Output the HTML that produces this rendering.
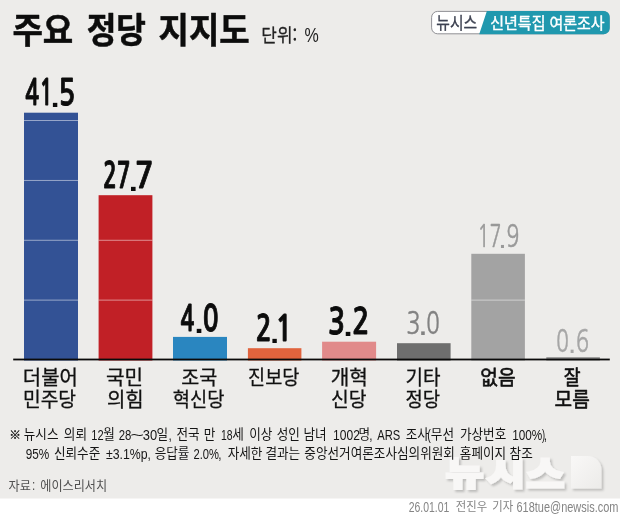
<!DOCTYPE html>
<html lang="ko">
<head>
<meta charset="utf-8">
<title>주요 정당 지지도</title>
<style>
html,body{margin:0;padding:0;background:#fff;}
body{width:620px;height:515px;overflow:hidden;}
svg{display:block;}
text{white-space:pre;}
.ns{vector-effect:non-scaling-stroke;stroke-linejoin:round;}
</style>
</head>
<body>
<svg width="620" height="515" viewBox="0 0 620 515">
<defs>
<linearGradient id="emb" x1="0" y1="0" x2="1" y2="1">
<stop offset="0" stop-color="#f9f8f7"/>
<stop offset="1" stop-color="#ecebe9"/>
</linearGradient>
<filter id="wsh" x="-10%" y="-10%" width="125%" height="130%">
<feGaussianBlur in="SourceAlpha" stdDeviation="0.9" result="b"/>
<feOffset in="b" dx="1.8" dy="2.2" result="o"/>
<feFlood flood-color="#000" flood-opacity="0.2"/>
<feComposite in2="o" operator="in" result="s"/>
<feMerge><feMergeNode in="s"/><feMergeNode in="SourceGraphic"/></feMerge>
</filter>
</defs>
<rect x="0" y="0" width="620" height="498.5" fill="#edecea"/>
<!-- bars -->
<rect x="24.0" y="112.7" width="54.0" height="247.8" fill="#335295"/>
<rect x="98.6" y="195.2" width="53.8" height="165.3" fill="#c12026"/>
<rect x="173.0" y="336.9" width="54.0" height="23.6" fill="#2a86c0"/>
<rect x="247.9" y="348.2" width="53.5" height="12.3" fill="#e0633d"/>
<rect x="322.1" y="341.7" width="54.0" height="18.8" fill="#e18a8a"/>
<rect x="397.0" y="343.2" width="53.6" height="17.3" fill="#6e6e6e"/>
<rect x="471.3" y="253.8" width="53.6" height="106.7" fill="#a3a3a3"/>
<rect x="546.3" y="357.2" width="53.6" height="3.3" fill="#8c8c8c"/>
<rect x="24.0" y="299.65" width="54.0" height="0.9" fill="#fff" opacity="0.55"/>
<rect x="98.6" y="299.65" width="53.8" height="0.9" fill="#fff" opacity="0.55"/>
<rect x="471.3" y="299.65" width="53.6" height="0.9" fill="#fff" opacity="0.55"/>
<rect x="24.0" y="239.80" width="54.0" height="0.9" fill="#fff" opacity="0.55"/>
<rect x="98.6" y="239.80" width="53.8" height="0.9" fill="#fff" opacity="0.55"/>
<rect x="24.0" y="179.95" width="54.0" height="0.9" fill="#fff" opacity="0.55"/>
<rect x="24.0" y="120.10" width="54.0" height="0.9" fill="#fff" opacity="0.55"/>
<rect x="13.2" y="358.6" width="596.6" height="1.8" fill="#0a0a0a"/>
<!-- badge -->
<rect x="431.6" y="11.4" width="177.6" height="22.4" rx="6" ry="6" fill="#fff" stroke="#85858a" stroke-width="0.9"/>
<path d="M486.9 10.9 H603.5 A6 6 0 0 1 609.7 17 V28.2 A6 6 0 0 1 603.5 34.3 H479.2 Z" fill="#2098ae"/>
<!-- watermark -->
<g filter="url(#wsh)">
<text transform="translate(445.87 484.91) scale(1.0208 0.8315)" font-family='"Noto Sans CJK KR", "Liberation Sans", sans-serif' font-weight="700" font-size="40" fill="#f8f7f6" stroke="#f8f7f6" stroke-width="3.4" stroke-linejoin="miter" style="vector-effect:non-scaling-stroke">뉴</text><text transform="translate(486.96 485.30) scale(1.0353 0.7769)" font-family='"Noto Sans CJK KR", "Liberation Sans", sans-serif' font-weight="700" font-size="40" fill="#f8f7f6" stroke="#f8f7f6" stroke-width="3.4" stroke-linejoin="miter" style="vector-effect:non-scaling-stroke">시</text><text transform="translate(526.46 487.62) scale(1.0238 0.8994)" font-family='"Noto Sans CJK KR", "Liberation Sans", sans-serif' font-weight="700" font-size="40" fill="#f8f7f6" stroke="#f8f7f6" stroke-width="3.4" stroke-linejoin="miter" style="vector-effect:non-scaling-stroke">스</text>
<path d="M571 456 H588 A13.4 13.4 0 0 1 601.4 469.4 V488.4 H571 Z" fill="url(#emb)"/>
</g>
<!-- text -->
<text transform="translate(12.43 43.00) scale(0.9448 1)" font-family='"Noto Sans CJK KR", "Liberation Sans", sans-serif' font-size="35.00" font-weight="700" fill="#0c0c0c" class="ns" stroke="#0c0c0c" stroke-width="0.5">주요</text>
<text transform="translate(86.66 43.00) scale(0.9201 1)" font-family='"Noto Sans CJK KR", "Liberation Sans", sans-serif' font-size="35.00" font-weight="700" fill="#0c0c0c" class="ns" stroke="#0c0c0c" stroke-width="0.5">정당</text>
<text transform="translate(158.53 43.00) scale(0.9435 1)" font-family='"Noto Sans CJK KR", "Liberation Sans", sans-serif' font-size="35.00" font-weight="700" fill="#0c0c0c" class="ns" stroke="#0c0c0c" stroke-width="0.5">지지도</text>
<text transform="translate(261.30 41.60) scale(0.9312 1)" font-family='"Noto Sans CJK KR", "Liberation Sans", sans-serif' font-size="18.20" font-weight="400" fill="#222" class="ns" stroke="#222" stroke-width="0.25">단위:</text>
<text transform="translate(304.56 41.81) scale(0.5350 0.6429)" font-family='"Liberation Sans", sans-serif' font-size="30.00" font-weight="400" fill="#222">%</text>
<text transform="translate(436.31 29.20) scale(0.8513 1)" font-family='"Noto Sans CJK KR", "Liberation Sans", sans-serif' font-size="17.40" font-weight="400" fill="#3c4150" class="ns" stroke="#3c4150" stroke-width="0.3">뉴시스</text>
<text transform="translate(490.20 28.80) scale(0.9461 1)" font-family='"Noto Sans CJK KR", "Liberation Sans", sans-serif' font-size="15.90" font-weight="400" fill="#fff" class="ns" stroke="#fff" stroke-width="0.4">신년특집</text>
<text transform="translate(549.45 28.80) scale(0.9434 1)" font-family='"Noto Sans CJK KR", "Liberation Sans", sans-serif' font-size="15.90" font-weight="400" fill="#fff" class="ns" stroke="#fff" stroke-width="0.4">여론조사</text>
<text transform="translate(25.21 104.95) scale(0.6502 1)" font-family='"NanumGothic", "Liberation Sans", sans-serif' font-size="35.45" font-weight="700" fill="#0c0c0c" class="ns" stroke="#0c0c0c" stroke-width="0.8">41</text><text transform="translate(50.80 107.20) scale(1.0476 0.9333)" font-family='"Liberation Sans", sans-serif' font-size="30.00" font-weight="700" fill="#0c0c0c">.</text><text transform="translate(58.43 104.95) scale(0.7821 1)" font-family='"NanumGothic", "Liberation Sans", sans-serif' font-size="35.45" font-weight="700" fill="#0c0c0c" class="ns" stroke="#0c0c0c" stroke-width="0.8">5</text>
<text transform="translate(102.92 188.45) scale(0.6477 1)" font-family='"NanumGothic", "Liberation Sans", sans-serif' font-size="35.45" font-weight="700" fill="#0c0c0c" class="ns" stroke="#0c0c0c" stroke-width="0.8">27</text><text transform="translate(128.80 190.70) scale(1.0952 0.9111)" font-family='"Liberation Sans", sans-serif' font-size="30.00" font-weight="700" fill="#0c0c0c">.</text><text transform="translate(134.95 188.45) scale(0.8645 1)" font-family='"NanumGothic", "Liberation Sans", sans-serif' font-size="35.45" font-weight="700" fill="#0c0c0c" class="ns" stroke="#0c0c0c" stroke-width="0.8">7</text>
<text transform="translate(180.61 330.85) scale(0.6462 1)" font-family='"NanumGothic", "Liberation Sans", sans-serif' font-size="35.45" font-weight="700" fill="#0c0c0c" class="ns" stroke="#0c0c0c" stroke-width="0.8">4</text><text transform="translate(194.40 333.00) scale(1.0952 0.9111)" font-family='"Liberation Sans", sans-serif' font-size="30.00" font-weight="700" fill="#0c0c0c">.</text><text transform="translate(202.83 330.85) scale(0.7390 1)" font-family='"NanumGothic", "Liberation Sans", sans-serif' font-size="35.45" font-weight="700" fill="#0c0c0c" class="ns" stroke="#0c0c0c" stroke-width="0.8">0</text>
<text transform="translate(255.72 340.65) scale(0.7419 1)" font-family='"NanumGothic", "Liberation Sans", sans-serif' font-size="35.45" font-weight="700" fill="#0c0c0c" class="ns" stroke="#0c0c0c" stroke-width="0.8">2</text><text transform="translate(270.20 343.20) scale(1.0476 0.9333)" font-family='"Liberation Sans", sans-serif' font-size="30.00" font-weight="700" fill="#0c0c0c">.</text><text transform="translate(275.05 340.65) scale(0.8349 1)" font-family='"NanumGothic", "Liberation Sans", sans-serif' font-size="35.45" font-weight="700" fill="#0c0c0c" class="ns" stroke="#0c0c0c" stroke-width="0.8">1</text>
<text transform="translate(328.09 333.55) scale(0.8032 1)" font-family='"NanumGothic", "Liberation Sans", sans-serif' font-size="35.45" font-weight="700" fill="#0c0c0c" class="ns" stroke="#0c0c0c" stroke-width="0.8">3</text><text transform="translate(343.40 336.10) scale(1.0952 0.9111)" font-family='"Liberation Sans", sans-serif' font-size="30.00" font-weight="700" fill="#0c0c0c">.</text><text transform="translate(352.19 333.55) scale(0.8032 1)" font-family='"NanumGothic", "Liberation Sans", sans-serif' font-size="35.45" font-weight="700" fill="#0c0c0c" class="ns" stroke="#0c0c0c" stroke-width="0.8">2</text>
<text transform="translate(406.28 333.89) scale(0.7599 1)" font-family='"NanumGothic", "Liberation Sans", sans-serif' font-size="31.18" font-weight="400" fill="#828282" class="ns" stroke="#828282" stroke-width="0.4">3</text><text transform="translate(419.55 335.00) scale(0.8333 0.8000)" font-family='"Liberation Sans", sans-serif' font-size="30.00" font-weight="700" fill="#828282">.</text><text transform="translate(426.37 333.89) scale(0.7133 1)" font-family='"NanumGothic", "Liberation Sans", sans-serif' font-size="31.18" font-weight="400" fill="#828282" class="ns" stroke="#828282" stroke-width="0.4">0</text>
<text transform="translate(477.46 247.06) scale(0.6346 1)" font-family='"NanumGothic", "Liberation Sans", sans-serif' font-size="31.12" font-weight="400" fill="#999999" class="ns" stroke="#999999" stroke-width="0.45">17</text><text transform="translate(499.50 248.30) scale(0.7143 0.6889)" font-family='"Liberation Sans", sans-serif' font-size="30.00" font-weight="700" fill="#999999">.</text><text transform="translate(506.56 247.06) scale(0.6788 1)" font-family='"NanumGothic", "Liberation Sans", sans-serif' font-size="31.12" font-weight="400" fill="#999999" class="ns" stroke="#999999" stroke-width="0.45">9</text>
<text transform="translate(556.18 351.56) scale(0.6657 1)" font-family='"NanumGothic", "Liberation Sans", sans-serif' font-size="31.12" font-weight="400" fill="#a6a6a6" class="ns" stroke="#a6a6a6" stroke-width="0.45">0</text><text transform="translate(569.25 353.00) scale(0.6905 0.7111)" font-family='"Liberation Sans", sans-serif' font-size="30.00" font-weight="700" fill="#a6a6a6">.</text><text transform="translate(575.92 351.56) scale(0.6929 1)" font-family='"NanumGothic", "Liberation Sans", sans-serif' font-size="31.12" font-weight="400" fill="#a6a6a6" class="ns" stroke="#a6a6a6" stroke-width="0.45">6</text>
<text transform="translate(22.85 385.10) scale(0.9980 1)" font-family='"Noto Sans CJK KR", "Liberation Sans", sans-serif' font-size="20.00" font-weight="400" fill="#111" class="ns" stroke="#111" stroke-width="0.3">더불어</text>
<text transform="translate(22.92 407.30) scale(0.9637 1)" font-family='"Noto Sans CJK KR", "Liberation Sans", sans-serif' font-size="20.00" font-weight="400" fill="#111" class="ns" stroke="#111" stroke-width="0.3">민주당</text>
<text transform="translate(106.04 385.10) scale(1.0089 1)" font-family='"Noto Sans CJK KR", "Liberation Sans", sans-serif' font-size="20.00" font-weight="400" fill="#111" class="ns" stroke="#111" stroke-width="0.3">국민</text>
<text transform="translate(106.95 407.30)" font-family='"Noto Sans CJK KR", "Liberation Sans", sans-serif' font-size="20.00" font-weight="400" fill="#111" class="ns" stroke="#111" stroke-width="0.3">의힘</text>
<text transform="translate(181.17 385.10) scale(0.9799 1)" font-family='"Noto Sans CJK KR", "Liberation Sans", sans-serif' font-size="20.00" font-weight="400" fill="#111" class="ns" stroke="#111" stroke-width="0.3">조국</text>
<text transform="translate(172.71 407.30) scale(0.9363 1)" font-family='"Noto Sans CJK KR", "Liberation Sans", sans-serif' font-size="20.00" font-weight="400" fill="#111" class="ns" stroke="#111" stroke-width="0.3">혁신당</text>
<text transform="translate(248.05 385.10) scale(0.9302 1)" font-family='"Noto Sans CJK KR", "Liberation Sans", sans-serif' font-size="20.00" font-weight="400" fill="#111" class="ns" stroke="#111" stroke-width="0.3">진보당</text>
<text transform="translate(330.64 385.10) scale(1.0120 1)" font-family='"Noto Sans CJK KR", "Liberation Sans", sans-serif' font-size="20.00" font-weight="400" fill="#111" class="ns" stroke="#111" stroke-width="0.3">개혁</text>
<text transform="translate(330.99 407.30) scale(0.9655 1)" font-family='"Noto Sans CJK KR", "Liberation Sans", sans-serif' font-size="20.00" font-weight="400" fill="#111" class="ns" stroke="#111" stroke-width="0.3">신당</text>
<text transform="translate(405.51 385.10) scale(0.9514 1)" font-family='"Noto Sans CJK KR", "Liberation Sans", sans-serif' font-size="20.00" font-weight="400" fill="#111" class="ns" stroke="#111" stroke-width="0.3">기타</text>
<text transform="translate(405.52 407.30) scale(0.9425 1)" font-family='"Noto Sans CJK KR", "Liberation Sans", sans-serif' font-size="20.00" font-weight="400" fill="#111" class="ns" stroke="#111" stroke-width="0.3">정당</text>
<text transform="translate(480.35 385.10) scale(0.9595 1)" font-family='"Noto Sans CJK KR", "Liberation Sans", sans-serif' font-size="20.00" font-weight="400" fill="#111" class="ns" stroke="#111" stroke-width="0.6">없음</text>
<text transform="translate(563.78 385.10) scale(0.9157 1)" font-family='"Noto Sans CJK KR", "Liberation Sans", sans-serif' font-size="20.00" font-weight="400" fill="#111" class="ns" stroke="#111" stroke-width="0.6">잘</text>
<text transform="translate(554.54 407.30) scale(0.9569 1)" font-family='"Noto Sans CJK KR", "Liberation Sans", sans-serif' font-size="20.00" font-weight="400" fill="#111" class="ns" stroke="#111" stroke-width="0.6">모름</text>
<text transform="translate(9.27 439.10) scale(1.0145 1)" font-family='"Noto Sans CJK KR", "Liberation Sans", sans-serif' font-size="11.50" font-weight="400" fill="#151515" class="ns" stroke="#151515" stroke-width="0.3">※</text>
<text transform="translate(23.72 439.40) scale(0.9550 1)" font-family='"Noto Sans CJK KR", "Liberation Sans", sans-serif' font-size="13.20" font-weight="400" fill="#151515">뉴시스</text>
<text transform="translate(63.84 439.40) scale(0.9550 1)" font-family='"Noto Sans CJK KR", "Liberation Sans", sans-serif' font-size="13.20" font-weight="400" fill="#151515">의뢰</text>
<text transform="translate(91.21 440.40) scale(0.7618 1)" font-family='"Liberation Sans", sans-serif' font-size="14.60" font-weight="400" fill="#151515">12</text><text transform="translate(103.17 439.40) scale(0.9550 1)" font-family='"Noto Sans CJK KR", "Liberation Sans", sans-serif' font-size="13.20" font-weight="400" fill="#151515">월</text>
<text transform="translate(118.63 440.40) scale(0.7789 1)" font-family='"Liberation Sans", sans-serif' font-size="14.60" font-weight="400" fill="#151515">28</text><text transform="translate(130.33 440.40) scale(1.6075 1)" font-family='"Liberation Sans", sans-serif' font-size="14.60" font-weight="400" fill="#151515">~</text><text transform="translate(142.78 440.40) scale(0.8844 1)" font-family='"Liberation Sans", sans-serif' font-size="14.60" font-weight="400" fill="#151515">30</text><text transform="translate(156.42 439.40) scale(0.9550 1)" font-family='"Noto Sans CJK KR", "Liberation Sans", sans-serif' font-size="13.20" font-weight="400" fill="#151515">일</text><text transform="translate(168.45 440.40) scale(0.8000 1)" font-family='"Liberation Sans", sans-serif' font-size="14.60" font-weight="400" fill="#151515">,</text>
<text transform="translate(176.54 439.40) scale(0.9550 1)" font-family='"Noto Sans CJK KR", "Liberation Sans", sans-serif' font-size="13.20" font-weight="400" fill="#151515">전국</text>
<text transform="translate(203.87 439.40) scale(0.9550 1)" font-family='"Noto Sans CJK KR", "Liberation Sans", sans-serif' font-size="13.20" font-weight="400" fill="#151515">만</text>
<text transform="translate(220.97 440.40) scale(0.7126 1)" font-family='"Liberation Sans", sans-serif' font-size="14.60" font-weight="400" fill="#151515">18</text><text transform="translate(232.20 439.40) scale(0.9550 1)" font-family='"Noto Sans CJK KR", "Liberation Sans", sans-serif' font-size="13.20" font-weight="400" fill="#151515">세</text>
<text transform="translate(249.19 439.40) scale(0.9550 1)" font-family='"Noto Sans CJK KR", "Liberation Sans", sans-serif' font-size="13.20" font-weight="400" fill="#151515">이상</text>
<text transform="translate(276.67 439.40) scale(0.9550 1)" font-family='"Noto Sans CJK KR", "Liberation Sans", sans-serif' font-size="13.20" font-weight="400" fill="#151515">성인</text>
<text transform="translate(303.47 439.40) scale(0.9550 1)" font-family='"Noto Sans CJK KR", "Liberation Sans", sans-serif' font-size="13.20" font-weight="400" fill="#151515">남녀</text>
<text transform="translate(333.04 440.40) scale(0.8259 1)" font-family='"Liberation Sans", sans-serif' font-size="14.60" font-weight="400" fill="#151515">1002</text><text transform="translate(358.47 439.40) scale(0.9550 1)" font-family='"Noto Sans CJK KR", "Liberation Sans", sans-serif' font-size="13.20" font-weight="400" fill="#151515">명</text><text transform="translate(369.15 440.40) scale(0.8000 1)" font-family='"Liberation Sans", sans-serif' font-size="14.60" font-weight="400" fill="#151515">,</text>
<text transform="translate(377.30 440.40) scale(0.7667 1)" font-family='"Liberation Sans", sans-serif' font-size="14.60" font-weight="400" fill="#151515">ARS</text>
<text transform="translate(405.67 439.40) scale(0.9550 1)" font-family='"Noto Sans CJK KR", "Liberation Sans", sans-serif' font-size="13.20" font-weight="400" fill="#151515">조사</text><text transform="translate(427.15 440.40) scale(0.7376 1)" font-family='"Liberation Sans", sans-serif' font-size="14.60" font-weight="400" fill="#151515">(</text><text transform="translate(430.87 439.40) scale(0.9550 1)" font-family='"Noto Sans CJK KR", "Liberation Sans", sans-serif' font-size="13.20" font-weight="400" fill="#151515">무선</text>
<text transform="translate(459.94 439.40) scale(0.9550 1)" font-family='"Noto Sans CJK KR", "Liberation Sans", sans-serif' font-size="13.20" font-weight="400" fill="#151515">가상번호</text>
<text transform="translate(512.16 440.40) scale(0.8056 1)" font-family='"Liberation Sans", sans-serif' font-size="14.60" font-weight="400" fill="#151515">100%</text><text transform="translate(541.91 440.40) scale(0.6322 1)" font-family='"Liberation Sans", sans-serif' font-size="14.60" font-weight="400" fill="#151515">)</text><text transform="translate(543.75 440.40) scale(0.8000 1)" font-family='"Liberation Sans", sans-serif' font-size="14.60" font-weight="400" fill="#151515">,</text>
<text transform="translate(25.71 459.00) scale(0.8062 1)" font-family='"Liberation Sans", sans-serif' font-size="14.60" font-weight="400" fill="#151515">95%</text>
<text transform="translate(53.94 458.00) scale(0.9550 1)" font-family='"Noto Sans CJK KR", "Liberation Sans", sans-serif' font-size="13.20" font-weight="400" fill="#151515">신뢰수준</text>
<text transform="translate(105.93 459.00) scale(0.8422 1)" font-family='"Liberation Sans", sans-serif' font-size="14.60" font-weight="400" fill="#151515">±3.1%p</text><text transform="translate(147.45 459.00) scale(0.8000 1)" font-family='"Liberation Sans", sans-serif' font-size="14.60" font-weight="400" fill="#151515">,</text>
<text transform="translate(154.67 458.00) scale(0.9550 1)" font-family='"Noto Sans CJK KR", "Liberation Sans", sans-serif' font-size="13.20" font-weight="400" fill="#151515">응답률</text>
<text transform="translate(193.44 459.00) scale(0.7662 1)" font-family='"Liberation Sans", sans-serif' font-size="14.60" font-weight="400" fill="#151515">2.0%</text><text transform="translate(218.15 459.00) scale(0.8000 1)" font-family='"Liberation Sans", sans-serif' font-size="14.60" font-weight="400" fill="#151515">,</text>
<text transform="translate(227.70 458.00) scale(0.9550 1)" font-family='"Noto Sans CJK KR", "Liberation Sans", sans-serif' font-size="13.20" font-weight="400" fill="#151515">자세한</text>
<text transform="translate(265.42 458.00) scale(0.9550 1)" font-family='"Noto Sans CJK KR", "Liberation Sans", sans-serif' font-size="13.20" font-weight="400" fill="#151515">결과는</text>
<text transform="translate(304.37 458.00) scale(0.9550 1)" font-family='"Noto Sans CJK KR", "Liberation Sans", sans-serif' font-size="13.20" font-weight="400" fill="#151515">중앙선거여론조사심의위원회</text>
<text transform="translate(459.87 458.00) scale(0.9550 1)" font-family='"Noto Sans CJK KR", "Liberation Sans", sans-serif' font-size="13.20" font-weight="400" fill="#151515">홈페이지</text>
<text transform="translate(509.57 458.00) scale(0.9550 1)" font-family='"Noto Sans CJK KR", "Liberation Sans", sans-serif' font-size="13.20" font-weight="400" fill="#151515">참조</text>
<text transform="translate(8.51 490.00) scale(0.9400 1)" font-family='"Noto Sans CJK KR", "Liberation Sans", sans-serif' font-size="12.90" font-weight="400" fill="#505050">자료</text><text transform="translate(31.95 490.00) scale(0.8000 1)" font-family='"Liberation Sans", sans-serif' font-size="14.60" font-weight="400" fill="#505050">:</text>
<text transform="translate(40.27 490.00) scale(0.9400 1)" font-family='"Noto Sans CJK KR", "Liberation Sans", sans-serif' font-size="12.90" font-weight="400" fill="#505050">에이스리서치</text>
<text transform="translate(408.68 511.90) scale(0.7256 1)" font-family='"Liberation Sans", sans-serif' font-size="14.40" font-weight="400" fill="#858585">26.01.01</text>
<text transform="translate(455.72 511.40) scale(0.9200 1)" font-family='"Noto Sans CJK KR", "Liberation Sans", sans-serif' font-size="12.40" font-weight="400" fill="#858585">전진우</text>
<text transform="translate(492.32 511.40) scale(0.9200 1)" font-family='"Noto Sans CJK KR", "Liberation Sans", sans-serif' font-size="12.40" font-weight="400" fill="#858585">기자</text>
<text transform="translate(516.45 511.90) scale(0.7618 1)" font-family='"Liberation Sans", sans-serif' font-size="14.40" font-weight="400" fill="#858585">618tue@newsis.com</text>
</svg>
</body>
</html>
